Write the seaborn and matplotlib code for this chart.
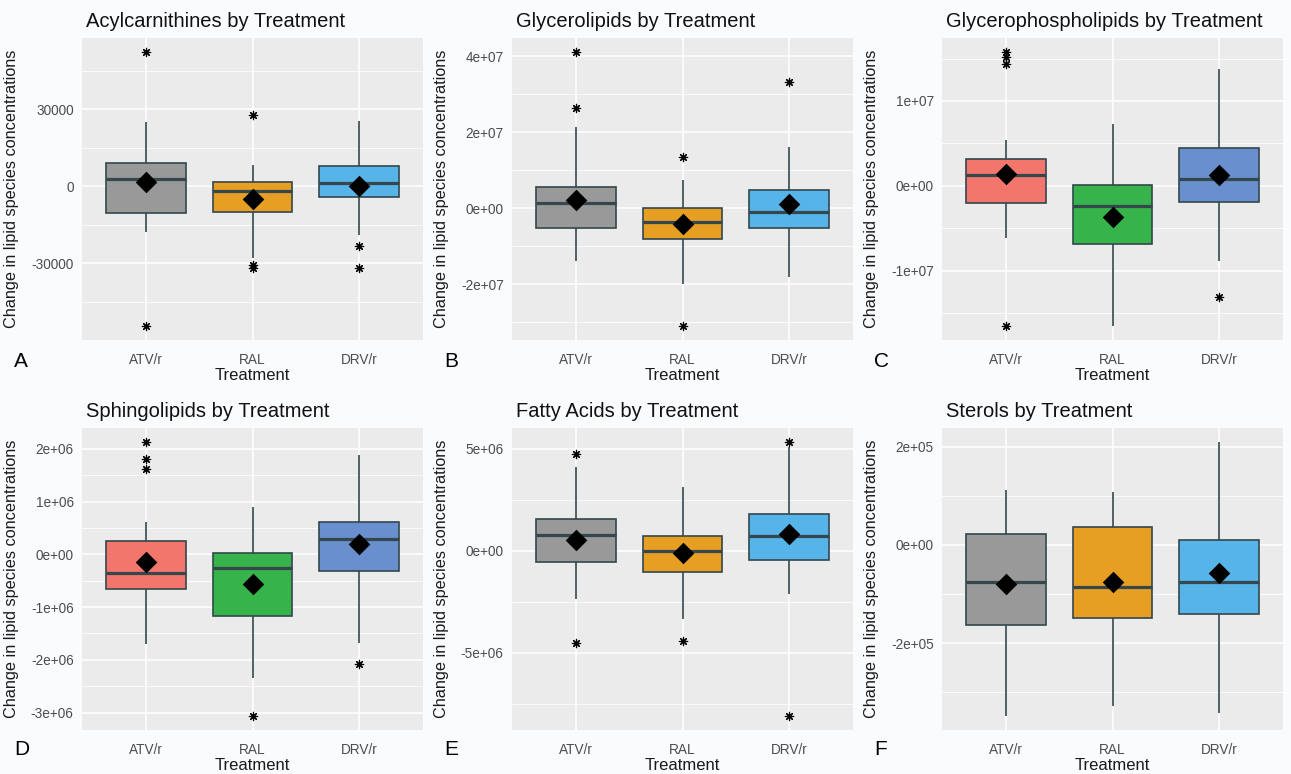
import numpy as np
import pandas as pd
import matplotlib
matplotlib.use("Agg")
import matplotlib.pyplot as plt
import seaborn as sns
from matplotlib.ticker import MultipleLocator, AutoMinorLocator, FuncFormatter

# ---------------- data ----------------
TREATMENTS = ["ATV/r", "RAL", "DRV/r"]

# five-number summaries per treatment: [lower whisker, Q1, median, Q3, upper whisker]
ACYL_BOX = [[-17700, -10600, 2970, 9180, 24960],
            [-27800, -9960, -1940, 1680, 8150],
            [-19000, -4270, 1420, 7890, 25220]]
ACYL_MEAN = [1680, -5170, -100]
ACYL_OUT = [[52400, -54600], [27900, -30700, -31900], [-23500, -31700]]

GLYC_BOX = [[-1.39e7, -0.526e7, 0.13e7, 0.553e7, 2.13e7],
            [-1.99e7, -0.81e7, -0.37e7, 0.01e7, 0.73e7],
            [-1.82e7, -0.53e7, -0.09e7, 0.49e7, 1.62e7]]
GLYC_MEAN = [0.22e7, -0.42e7, 0.10e7]
GLYC_OUT = [[4.12e7, 2.63e7], [1.34e7, -3.11e7], [3.32e7]]

GPL_BOX = [[-0.615e7, -0.209e7, 0.126e7, 0.316e7, 0.54e7],
           [-1.657e7, -0.682e7, -0.237e7, 0.008e7, 0.73e7],
           [-0.89e7, -0.189e7, 0.075e7, 0.45e7, 1.377e7]]
GPL_MEAN = [0.138e7, -0.367e7, 0.126e7]
GPL_OUT = [[1.58e7, 1.52e7, 1.43e7, -1.649e7], [], [-1.306e7]]

SPH_BOX = [[-1.70e6, -0.66e6, -0.35e6, 0.25e6, 0.61e6],
           [-2.34e6, -1.17e6, -0.265e6, 0.02e6, 0.90e6],
           [-1.685e6, -0.32e6, 0.284e6, 0.61e6, 1.875e6]]
SPH_MEAN = [-0.145e6, -0.57e6, 0.20e6]
SPH_OUT = [[2.134e6, 1.81e6, 1.62e6], [-3.07e6], [-2.08e6]]

FA_BOX = [[-2.37e6, -0.55e6, 0.77e6, 1.57e6, 4.13e6],
          [-3.34e6, -1.03e6, -0.03e6, 0.73e6, 3.15e6],
          [-2.12e6, -0.44e6, 0.73e6, 1.81e6, 5.10e6]]
FA_MEAN = [0.51e6, -0.11e6, 0.83e6]
FA_OUT = [[4.75e6, -4.52e6], [-4.44e6], [5.35e6, -8.11e6]]

STER_BOX = [[-3.49e5, -1.64e5, -0.766e5, 0.22e5, 1.12e5],
            [-3.29e5, -1.48e5, -0.86e5, 0.37e5, 1.08e5],
            [-3.42e5, -1.41e5, -0.746e5, 0.10e5, 2.10e5]]
STER_MEAN = [-0.79e5, -0.766e5, -0.576e5]
STER_OUT = [[], [], []]

TITLES = ["Acylcarnithines by Treatment", "Glycerolipids by Treatment",
          "Glycerophospholipids by Treatment", "Sphingolipids by Treatment",
          "Fatty Acids by Treatment", "Sterols by Treatment"]
LETTERS = ["A", "B", "C", "D", "E", "F"]
PAL_1 = ["#999999", "#E69F22", "#56B4E9"]
PAL_2 = ["#F2766B", "#36B34A", "#6A8FCF"]

# ---------------- style ----------------
sns.set_theme(style="darkgrid", rc={"axes.facecolor": "#EBEBEB"})
plt.rcParams["font.family"] = ["Liberation Sans", "DejaVu Sans"]

W, H = 1291, 774
BG = "#FAFBFD"
EDGE = "#33474D"
fig = plt.figure(figsize=(W / 100, H / 100), dpi=100, facecolor=BG)


def px_axes(x0, y0, x1, y1):
    return fig.add_axes([x0 / W, 1 - y1 / H, (x1 - x0) / W, (y1 - y0) / H])


panels = [
    (ACYL_BOX, ACYL_MEAN, ACYL_OUT, PAL_1, 30000, "plain", (82, 38)),
    (GLYC_BOX, GLYC_MEAN, GLYC_OUT, PAL_1, 2e7, "sci", (512, 38)),
    (GPL_BOX, GPL_MEAN, GPL_OUT, PAL_2, 1e7, "sci", (942, 38)),
    (SPH_BOX, SPH_MEAN, SPH_OUT, PAL_2, 1e6, "sci", (82, 428)),
    (FA_BOX, FA_MEAN, FA_OUT, PAL_1, 5e6, "sci", (512, 428)),
    (STER_BOX, STER_MEAN, STER_OUT, PAL_1, 2e5, "sci", (942, 428)),
]
PW, PH = 341, 302

for i, (box, mean, out, pal, step, fmt, (x0, y0)) in enumerate(panels):
    ax = px_axes(x0, y0, x0 + PW, y0 + PH)
    ax.set_facecolor("#EBEBEB")
    df = pd.DataFrame({"Treatment": np.repeat(TREATMENTS, 5),
                       "value": np.concatenate([np.asarray(b, float) for b in box])})
    sns.boxplot(data=df, x="Treatment", y="value", hue="Treatment",
                order=TREATMENTS, hue_order=TREATMENTS, palette=pal,
                saturation=1, width=0.75, whis=(0, 100), showfliers=False,
                showcaps=False, linecolor=EDGE, linewidth=1.2,
                medianprops={"linewidth": 2.3}, legend=False, ax=ax)
    # outliers
    ot, ov = [], []
    for t, vals in zip(TREATMENTS, out):
        ot += [t] * len(vals)
        ov += list(vals)
    if ov:
        sns.stripplot(x=ot, y=ov, order=TREATMENTS, jitter=False,
                      marker=(8, 2, 0), size=6, color="black",
                      edgecolor="black", linewidth=0.85, zorder=6, ax=ax)
    # means
    sns.stripplot(x=TREATMENTS, y=mean, order=TREATMENTS, jitter=False,
                  marker="D", size=11, color="black", linewidth=0,
                  zorder=7, ax=ax)

    allv = [v for b in box for v in b] + ov
    lo, hi = min(allv), max(allv)
    pad = 0.05 * (hi - lo)
    ax.set_ylim(lo - pad, hi + pad)
    ax.set_xlim(-0.6, 2.6)

    ax.yaxis.set_major_locator(MultipleLocator(step))
    ax.yaxis.set_minor_locator(AutoMinorLocator(2))
    if fmt == "plain":
        ax.yaxis.set_major_formatter(FuncFormatter(lambda v, p: f"{int(round(v))}"))
    else:
        ax.yaxis.set_major_formatter(FuncFormatter(lambda v, p: f"{v:.0e}"))

    ax.grid(False)
    ax.yaxis.grid(True, which="major", color="white", linewidth=1.1)
    ax.yaxis.grid(True, which="minor", color="white", linewidth=0.55)
    ax.xaxis.grid(True, which="major", color="white", linewidth=1.1)
    ax.set_axisbelow(True)
    for s in ax.spines.values():
        s.set_visible(False)

    ax.tick_params(axis="both", which="major", length=4, width=1.0,
                   color="#333333", labelsize=9.8, labelcolor="#4D4D4D")
    ax.tick_params(axis="y", which="major", pad=2)
    ax.tick_params(axis="x", which="major", pad=5)
    ax.tick_params(which="minor", length=0)

    ax.set_xlabel("Treatment", fontsize=12, color="#1A1A1A")
    ax.set_ylabel("Change in lipid species concentrations", fontsize=11.7, color="#1A1A1A")
    ax.xaxis.set_label_coords(0.5, -0.093)
    ax.xaxis.label.set_va("top")
    ax.yaxis.set_label_coords(-0.185, 0.5)
    t = ax.set_title(TITLES[i], loc="left", fontsize=14.5, pad=8, color="#111111")
    t.set_x(0.012)

    # panel letter
    base_y = 367 if y0 < 200 else 755
    fig.text((x0 - 68) / W, 1 - base_y / H, LETTERS[i], fontsize=15,
             color="black", va="baseline", ha="left")

fig.savefig("out.png", dpi=100, facecolor=BG)
